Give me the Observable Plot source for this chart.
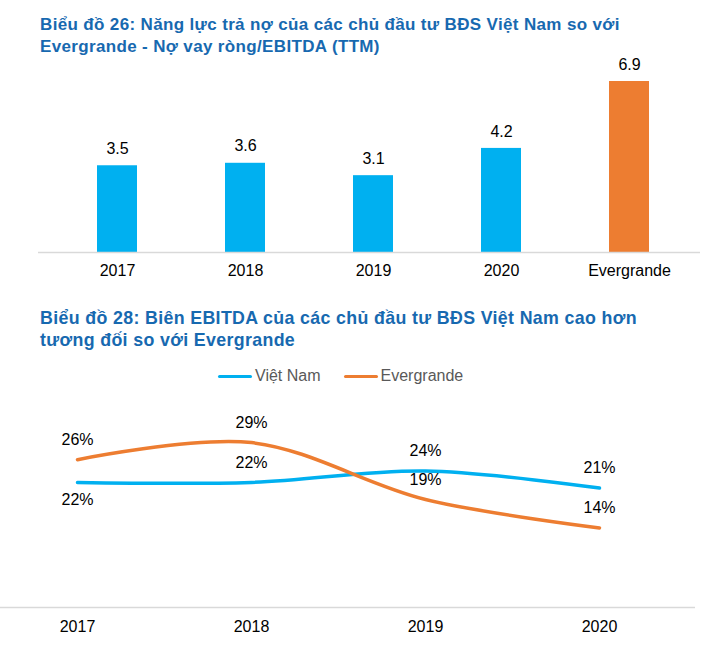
<!DOCTYPE html>
<html>
<head>
<meta charset="utf-8">
<script src="https://cdn.jsdelivr.net/npm/d3@7"></script>
<script src="https://cdn.jsdelivr.net/npm/@observablehq/plot@0.6"></script>
<style>
  html, body { margin: 0; padding: 0; background: #fff; }
  #root { position: relative; width: 704px; height: 661px; font-family: "Liberation Sans", Arial, sans-serif; overflow: hidden; }
  .title { position: absolute; left: 40px; font-weight: bold; font-size: 17px; letter-spacing: 0.35px; line-height: 22px; color: #1769b0; white-space: nowrap; }
  .chart { position: absolute; left: 0; }
  #legend { position: absolute; top: 366px; left: 218px; height: 20px; display: flex; align-items: center; font-size: 16px; color: #595959; }
  .item { display: flex; align-items: center; margin-right: 23px; }
  .sw { width: 34px; height: 3px; margin-right: 3px; border-radius: 1.5px; }
</style>
</head>
<body>
<div id="root">
  <div class="title" style="top:14px">Biểu đồ 26: Năng lực trả nợ của các chủ đầu tư BĐS Việt Nam so với<br>Evergrande - Nợ vay ròng/EBITDA (TTM)</div>
  <div class="chart" id="c1" style="top:40px"></div>
  <div class="title" style="top:307px; font-size:17.8px">Biểu đồ 28: Biên EBITDA của các chủ đầu tư BĐS Việt Nam cao hơn<br>tương đối so với Evergrande</div>
  <div id="legend"></div>
  <div class="chart" id="c2" style="top:390px"></div>
</div>
<script>
// ---- Chart 26 data ----
const barCategories = ["2017", "2018", "2019", "2020", "Evergrande"];
const barValues = [3.5, 3.6, 3.1, 4.2, 6.9];
const barColors = ["#00b0f0", "#00b0f0", "#00b0f0", "#00b0f0", "#ed7d31"];

// ---- Chart 28 data ----
const years = ["2017", "2018", "2019", "2020"];
const seriesNames = ["Việt Nam", "Evergrande"];
const vietnamMargin = [0.22, 0.22, 0.24, 0.21];
const evergrandeMargin = [0.26, 0.29, 0.19, 0.14];
const seriesColors = ["#00b0f0", "#ed7d31"];

const font = "Liberation Sans, Arial, sans-serif";

const bars = barCategories.map((c, i) => ({cat: c, value: barValues[i], color: barColors[i]}));

const chart1 = Plot.plot({
  width: 704,
  height: 250,
  marginTop: 41,
  marginBottom: 38,
  marginLeft: 38,
  marginRight: 4,
  style: {fontFamily: font, fontSize: "16px", color: "#000", background: "transparent", overflow: "visible"},
  x: {type: "band", domain: barCategories, paddingInner: 0.69, paddingOuter: 0.345, insetLeft: 14, insetRight: 6, label: null, tickSize: 0, tickPadding: 12},
  y: {domain: [0, 6.9], axis: null},
  marks: [
    Plot.barY(bars, {x: "cat", y: "value", fill: "color"}),
    Plot.ruleY([0], {stroke: "#d9d9d9", strokeWidth: 1.5}),
    Plot.text(bars, {x: "cat", y: "value", text: d => d.value.toFixed(1), dy: -17, fill: "#000", fontSize: 16})
  ]
});
document.getElementById("c1").appendChild(chart1);

// ---- Chart 28 ----
const lineData = [];
years.forEach((y, i) => {
  lineData.push({year: y, series: seriesNames[0], value: vietnamMargin[i]});
  lineData.push({year: y, series: seriesNames[1], value: evergrandeMargin[i]});
});
const labelBelow = d => d.series === "Việt Nam" && d.year === "2017";

const chart2 = Plot.plot({
  width: 704,
  height: 271,
  marginTop: 18,
  marginBottom: 54,
  marginLeft: 0,
  marginRight: 9,
  style: {fontFamily: font, fontSize: "16px", color: "#000", background: "transparent"},
  x: {type: "point", domain: years, padding: 0, insetLeft: 76, insetRight: 95, label: null, tickSize: 0, tickPadding: 13},
  y: {domain: [0, 0.35], axis: null},
  color: {domain: seriesNames, range: seriesColors},
  marks: [
    Plot.ruleY([0], {stroke: "#d9d9d9", strokeWidth: 1.5}),
    Plot.line(lineData, {x: "year", y: "value", z: "series", stroke: "series", strokeWidth: 3.5, curve: "catmull-rom"}),
    Plot.text(lineData.filter(d => !labelBelow(d)), {x: "year", y: "value", text: d => Math.round(d.value * 100) + "%", dy: -20, fill: "#000", fontSize: 16}),
    Plot.text(lineData.filter(labelBelow), {x: "year", y: "value", text: d => Math.round(d.value * 100) + "%", dy: 17, fill: "#000", fontSize: 16})
  ]
});
document.getElementById("c2").appendChild(chart2);

// Legend
const legend = document.getElementById("legend");
seriesNames.forEach((name, i) => {
  const item = document.createElement("div");
  item.className = "item";
  const sw = document.createElement("div");
  sw.className = "sw";
  sw.style.background = seriesColors[i];
  const t = document.createElement("span");
  t.textContent = name;
  item.appendChild(sw);
  item.appendChild(t);
  legend.appendChild(item);
});
</script>
</body>
</html>
